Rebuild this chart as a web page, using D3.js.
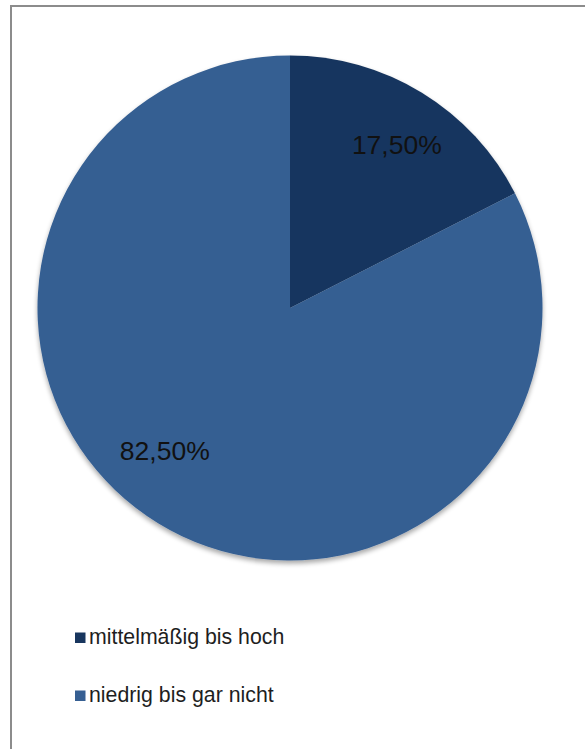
<!DOCTYPE html>
<html>
<head>
<meta charset="utf-8">
<script src="https://cdn.jsdelivr.net/npm/d3@7/dist/d3.min.js"></script>
<style>
  html, body { margin: 0; padding: 0; background: #fff; }
  svg { display: block; }
</style>
</head>
<body>
<script>
// Survey answer shares (percent)
const categories = ["mittelmäßig bis hoch", "niedrig bis gar nicht"];
const values = [17.5, 82.5];
const valueLabels = ["17,50%", "82,50%"];
const colors = ["#18365e", "#365f92"];

const W = 585, H = 749;
const cx = 290, cy = 308, R = 252.5;

const svg = d3.select("body").append("svg")
  .attr("width", W).attr("height", H);

// soft shadow under the pie
const defs = svg.append("defs");
const f = defs.append("filter").attr("id", "shadow")
  .attr("x", "-10%").attr("y", "-10%").attr("width", "120%").attr("height", "125%");
f.append("feGaussianBlur").attr("in", "SourceAlpha").attr("stdDeviation", 2.5);
f.append("feOffset").attr("dx", 0).attr("dy", 2.5).attr("result", "b");
f.append("feComponentTransfer").append("feFuncA").attr("type", "linear").attr("slope", 0.35);
const m = f.append("feMerge");
m.append("feMergeNode");
m.append("feMergeNode").attr("in", "SourceGraphic");

// chart frame
svg.append("rect")
  .attr("x", 11).attr("y", 6)
  .attr("width", 600).attr("height", 760)
  .attr("fill", "#fff")
  .attr("stroke", "#8c8c8c").attr("stroke-width", 2);

const pie = d3.pie().sort(null).value(d => d);
const arcs = pie(values);
const arc = d3.arc().innerRadius(0).outerRadius(R);

const g = svg.append("g").attr("transform", `translate(${cx},${cy})`);
g.append("g").attr("filter", "url(#shadow)")
  .selectAll("path").data(arcs).enter().append("path")
  .attr("d", arc)
  .attr("fill", (d, i) => colors[i]);

// value labels: placed along each slice's bisector, with a small angular
// nudge for the large slice (best-fit placement)
const labelRadius = [195, 190];
const labelAngleShift = [0.03, 0.17];
g.selectAll("text.val").data(arcs).enter().append("text")
  .attr("class", "val")
  .each(function (d, i) {
    const a = (d.startAngle + d.endAngle) / 2 + labelAngleShift[i];
    const x = Math.sin(a) * labelRadius[i];
    const y = -Math.cos(a) * labelRadius[i];
    d3.select(this).attr("x", x).attr("y", y);
  })
  .attr("text-anchor", "middle")
  .attr("dy", "0.35em")
  .attr("font-family", "Liberation Sans, Arial, sans-serif")
  .attr("font-size", 26.5)
  .attr("fill", "#111")
  .text((d, i) => valueLabels[i]);

// legend
const legendY = d3.scalePoint().domain(categories).range([644, 702]);
const lg = svg.append("g").selectAll("g").data(categories).enter().append("g")
  .attr("transform", d => `translate(75,${legendY(d)})`);
lg.append("rect")
  .attr("x", 0).attr("y", -11.5)
  .attr("width", 10.5).attr("height", 10.5)
  .attr("fill", (d, i) => colors[i]);
lg.append("text")
  .attr("x", 14).attr("y", 0)
  .attr("font-family", "Liberation Sans, Arial, sans-serif")
  .attr("font-size", 21.3)
  .attr("fill", "#1e1e1e")
  .text(d => d);
</script>
</body>
</html>
